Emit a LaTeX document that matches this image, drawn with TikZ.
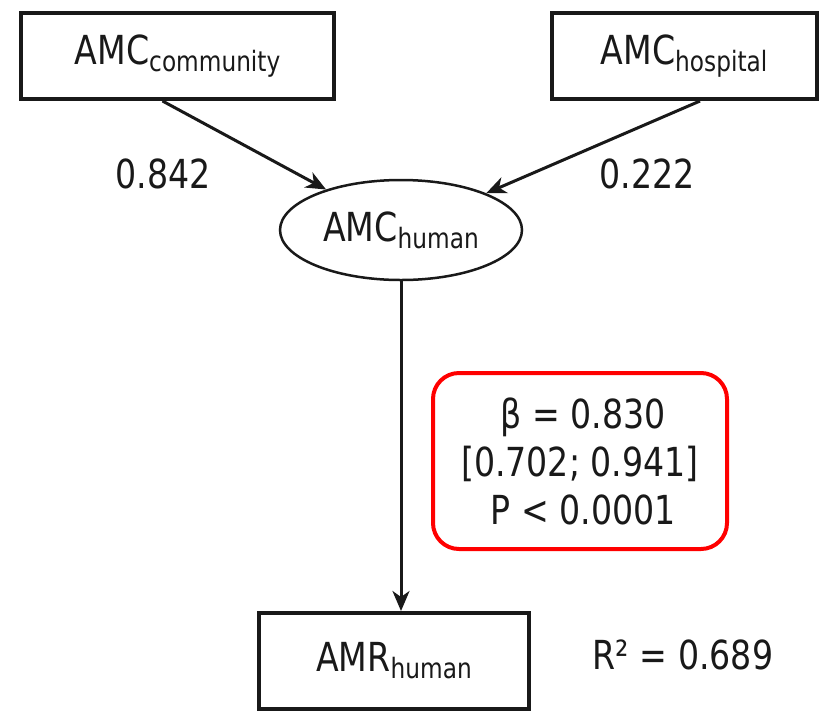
\documentclass[tikz,border=0pt]{standalone}
\usepackage{fontspec}
\setmainfont{DejaVu Sans}[FakeStretch=0.83]
\usetikzlibrary{shapes.geometric,arrows.meta}
\newcommand{\subtxt}[1]{{\fontsize{28}{28}\selectfont\raisebox{-7pt}{#1}}}
\begin{document}
\begin{tikzpicture}[x=1pt,y=-1pt,
  every node/.style={font=\fontsize{40}{48}\selectfont, text=black!90},
  obsbox/.style={draw=black!90, line width=4pt, rectangle, inner sep=0pt},
  latent/.style={draw=black!90, line width=2.5pt, ellipse, inner sep=0pt, minimum width=242pt, minimum height=100pt},
  arr/.style={draw=black!90, line width=3pt, -{Stealth[length=20pt,width=17pt,inset=6pt]}},
  redbox/.style={draw=red, line width=4pt, rounded corners=26pt, minimum width=294pt, minimum height=176pt, align=center, inner sep=0pt},
  lbl/.style={inner sep=0pt}]
\useasboundingbox (0,0) rectangle (821,710);
\node[obsbox, minimum width=313pt, minimum height=86pt] (comm) at (177.5,56) {AMC\subtxt{community}};
\node[obsbox, minimum width=265pt, minimum height=86pt] (hosp) at (684,56) {AMC\subtxt{hospital}};
\node[latent] (hum) at (401,230) {AMC\subtxt{human}};
\node[obsbox, minimum width=270pt, minimum height=96pt] (amr) at (394,661) {AMR\subtxt{human}};
\draw[arr] ([xshift=-15pt]comm.south) -- (hum);
\draw[arr] ([xshift=16pt]hosp.south) -- (hum);
\draw[arr] (hum.south) -- ([xshift=7pt]amr.north);
\node[lbl] (l1) at (163,174) {0.842};
\node[lbl] (l2) at (647,174) {0.222};
\node[redbox] (beta) at (580,461) {\,β = 0.830\\{}[0.702; 0.941]\\\,P < 0.0001};
\node[lbl] (r2) at (683,655) {R² = 0.689};
\end{tikzpicture}
\end{document}
